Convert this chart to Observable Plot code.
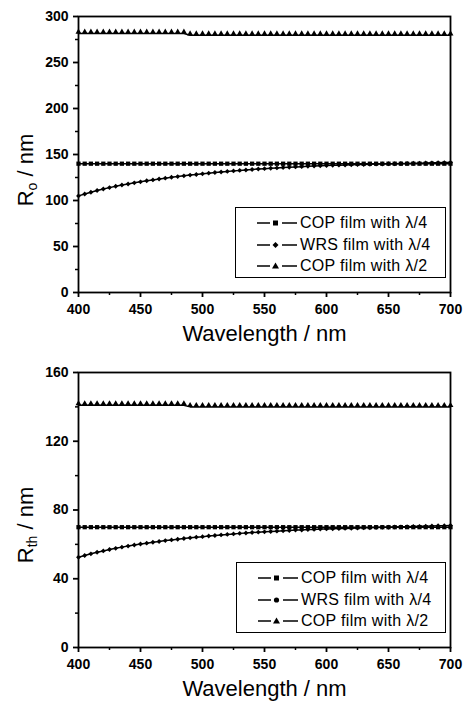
<!DOCTYPE html>
<html><head><meta charset="utf-8">
<script src="https://cdn.jsdelivr.net/npm/d3@7"></script>
<script src="https://cdn.jsdelivr.net/npm/@observablehq/plot@0.6"></script>
<style>
body{margin:0;background:#fff;font-family:"Liberation Sans",Arial,sans-serif;color:#000;}
.panel{position:relative;width:469px;}
.panel svg{display:block;}
.ytitle{position:absolute;transform:translate(-50%,-50%) rotate(-90deg);white-space:nowrap;font-size:22px;line-height:22px;}
.ytitle sub{font-size:14px;line-height:0;vertical-align:-4px;}
.legend{position:absolute;border:1.3px solid #000;background:#fff;box-sizing:border-box;padding-top:4px;}
.legend .row{position:relative;height:21.7px;line-height:21.7px;font-size:16px;letter-spacing:0.3px;white-space:nowrap;}
.legend .row svg{position:absolute;left:20px;top:0;}
.legend .row span{position:absolute;left:64px;top:0;}
</style>
</head><body>
<div class="panel" id="p1"></div>
<div class="panel" id="p2"></div>
<script>
// ---------- data ----------
const wavelength = [400,405,410,415,420,425,430,435,440,445,450,455,460,465,470,475,480,485,490,495,
  500,505,510,515,520,525,530,535,540,545,550,555,560,565,570,575,580,585,590,595,
  600,605,610,615,620,625,630,635,640,645,650,655,660,665,670,675,680,685,690,695,700];

const seriesNames = ["COP film with λ/4", "WRS film with λ/4", "COP film with λ/2"];

// Ro (top panel)
const copQuarterRo = [140,140,140,140,140,140,140,140,140,140,140,140,140,140,140,140,140,140,140,140,
  140,140,140,140,140,140,140,140,140,140,140,140,140,140,140,140,140,140,140,140,
  140,140,140,140,140,140,140,140,140,140,140,140,140,140,140,140,140,140,140,140,140];
const wrsQuarterRo = [105,107,109,110.8,112.5,114,115.5,116.8,118,119.2,120.3,121.4,122.4,123.4,124.3,125.2,126,126.8,127.6,128.3,
  129,129.7,130.4,131,131.6,132.2,132.7,133.2,133.7,134.2,134.6,135,135.4,135.8,136.2,136.5,136.8,137.1,137.4,137.7,
  138,138.2,138.4,138.6,138.8,139,139.2,139.4,139.6,139.7,139.9,140,140.2,140.3,140.5,140.6,140.8,140.9,141.1,141.2,141.4];
const copHalfRo = [281.5,281.5,281.5,281.5,281.5,281.5,281.5,281.5,281.5,281.5,281.5,281.5,281.5,281.5,281.5,281.5,281.5,281.5,279.7,279.7,
  279.7,279.7,279.7,279.7,279.7,279.7,279.7,279.7,279.7,279.7,279.7,279.7,279.7,279.7,279.7,279.7,279.7,279.7,279.7,279.7,
  279.7,279.7,279.7,279.7,279.7,279.7,279.7,279.7,279.7,279.7,279.7,279.7,279.7,279.7,279.7,279.7,279.7,279.7,279.7,279.7,279.7];

// Rth (bottom panel)
const copQuarterRth = [70,70,70,70,70,70,70,70,70,70,70,70,70,70,70,70,70,70,70,70,
  70,70,70,70,70,70,70,70,70,70,70,70,70,70,70,70,70,70,70,70,
  70,70,70,70,70,70,70,70,70,70,70,70,70,70,70,70,70,70,70,70,70];
const wrsQuarterRth = [52.5,53.5,54.5,55.4,56.2,57,57.7,58.4,59,59.6,60.2,60.7,61.2,61.7,62.2,62.6,63,63.4,63.8,64.2,
  64.5,64.9,65.2,65.5,65.8,66.1,66.4,66.6,66.9,67.1,67.3,67.5,67.7,67.9,68.1,68.3,68.4,68.6,68.7,68.9,
  69,69.1,69.2,69.3,69.4,69.5,69.6,69.7,69.8,69.9,70,70.1,70.2,70.3,70.4,70.5,70.6,70.7,70.8,70.9,71];
const copHalfRth = [141,141,141,141,141,141,141,141,141,141,141,141,141,141,141,141,141,141,140,140,
  140,140,140,140,140,140,140,140,140,140,140,140,140,140,140,140,140,140,140,140,
  140,140,140,140,140,140,140,140,140,140,140,140,140,140,140,140,140,140,140,140,140];

const xTicks = [400,450,500,550,600,650,700];
const xMinor = [425,475,525,575,625,675];
const yTicksRo = [0,50,100,150,200,250,300];
const yMinorRo = [25,75,125,175,225,275];
const yTicksRth = [0,40,80,120,160];
const yMinorRth = [20,60,100,140];

const xTitle = "Wavelength / nm";

// ---------- drawing ----------
function rows(vals){ return wavelength.map((w,i)=>({w, v: vals[i]})); }

function makePanel(el, opts){
  const {series, yDomain, yTicks, yMinor, height, marginTop, marginBottom, yTitleHTML, yTitleY, legendPos, wrsLegendSymbol} = opts;
  const symbols = ["square","diamond2","triangle"];
  const radii = [2.4, 2.2, 2.2];
  const dys = [0, 0, -1.5];
  const marks = [];
  series.forEach((s,k)=>{
    marks.push(Plot.line(rows(s), {x:"w", y:"v", stroke:"#000", strokeWidth:1.5}));
  });
  series.forEach((s,k)=>{
    marks.push(Plot.dot(rows(s), {x:"w", y:"v", symbol:symbols[k], r:radii[k], fill:"#000", dy:dys[k]}));
  });
  marks.push(
    Plot.axisX({ticks:xTicks, tickSize:5, tickPadding:7, fontSize:14, fontWeight:"bold", strokeWidth:1.8, label:null}),
    Plot.axisX({ticks:xMinor, tickSize:3, text:null, strokeWidth:1.5, label:null}),
    Plot.axisY({ticks:yTicks, tickSize:5, tickPadding:5, fontSize:14, fontWeight:"bold", strokeWidth:1.8, label:null}),
    Plot.axisY({ticks:yMinor, tickSize:3, text:null, strokeWidth:1.5, label:null}),
    Plot.frame({stroke:"#000", strokeWidth:1.8}),
    Plot.text([xTitle], {text:d=>d, frameAnchor:"bottom", lineAnchor:"top", dy:33, fontSize:22})
  );
  const chart = Plot.plot({
    width:469, height, marginTop, marginBottom, marginLeft:78, marginRight:19,
    style:{fontFamily:"Liberation Sans, Arial, sans-serif", fontSize:"14px", color:"#000", background:"#fff"},
    x:{domain:[400,700], inset:0},
    y:{domain:yDomain, inset:0},
    marks
  });
  d3.select(chart).selectAll('g[aria-label$="tick label"]').attr("font-weight","bold")
    .selectAll("text").attr("font-weight","bold").style("font-weight","bold");
  el.appendChild(chart);

  const yt = document.createElement("div");
  yt.className = "ytitle";
  yt.style.left = "25.5px";
  yt.style.top = yTitleY + "px";
  yt.innerHTML = yTitleHTML;
  el.appendChild(yt);

  const lg = document.createElement("div");
  lg.className = "legend";
  Object.assign(lg.style, {left:legendPos[0]+"px", top:legendPos[1]+"px", width:legendPos[2]+"px", height:legendPos[3]+"px"});
  const symSvg = [
    '<rect x="17" y="8.5" width="5" height="5" fill="#000"/>',
    wrsLegendSymbol,
    '<polygon points="19.5,7.5 23,13.5 16,13.5" fill="#000"/>'
  ];
  seriesNames.forEach((name,k)=>{
    const r = document.createElement("div");
    r.className = "row";
    r.innerHTML = '<svg width="44" height="22"><line x1="1" y1="11" x2="14" y2="11" stroke="#000" stroke-width="1.5"/>' +
      '<line x1="26" y1="11" x2="41" y2="11" stroke="#000" stroke-width="1.5"/>' + symSvg[k] + '</svg><span></span>';
    r.querySelector("span").textContent = name;
    lg.appendChild(r);
  });
  el.appendChild(lg);
}

makePanel(document.getElementById("p1"), {
  series:[copQuarterRo, wrsQuarterRo, copHalfRo],
  yDomain:[0,300], yTicks:yTicksRo, yMinor:yMinorRo,
  height:352, marginTop:16, marginBottom:60,
  yTitleHTML:'R<sub>o</sub> / nm', yTitleY:170,
  legendPos:[235,207,211,71],
  wrsLegendSymbol:'<polygon points="19.5,8 22.5,11 19.5,14 16.5,11" fill="#000"/>'
});
makePanel(document.getElementById("p2"), {
  series:[copQuarterRth, wrsQuarterRth, copHalfRth],
  yDomain:[0,160], yTicks:yTicksRth, yMinor:yMinorRth,
  height:350, marginTop:20, marginBottom:55,
  yTitleHTML:'R<sub>th</sub> / nm', yTitleY:173,
  legendPos:[236,210,210,71],
  wrsLegendSymbol:'<circle cx="19.5" cy="11" r="2.6" fill="#000"/>'
});
</script>
</body></html>
